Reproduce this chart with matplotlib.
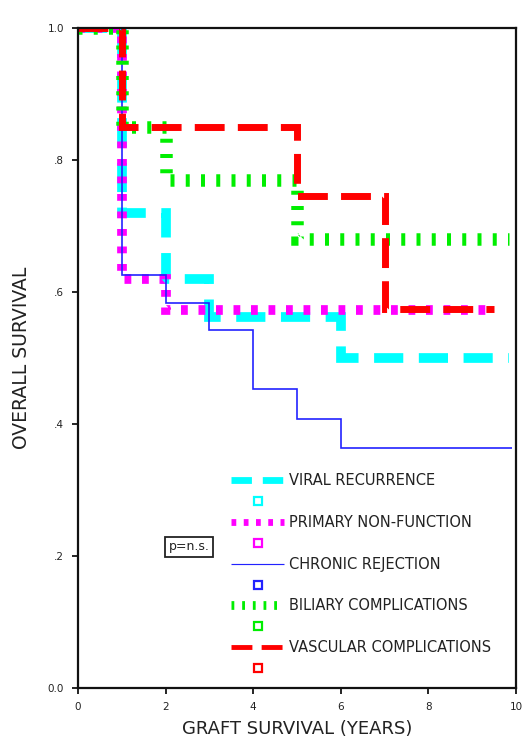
import matplotlib
matplotlib.use('Agg')
import matplotlib.pyplot as plt
from matplotlib.lines import Line2D

# ── Daten ─────────────────────────────────────────────────────────────────────
viral_t = [0, 1, 2, 3, 6, 9.85]
viral_s = [1.0, 0.72, 0.62, 0.562, 0.50, 0.50]

primary_t = [0, 1, 2, 9.5]
primary_s = [1.0, 0.62, 0.573, 0.573]

chronic_t = [0, 1, 2, 3, 4, 5, 6, 9.9]
chronic_s = [1.0, 0.626, 0.583, 0.542, 0.453, 0.408, 0.364, 0.364]

biliary_t = [0, 1, 2, 5, 9.85]
biliary_s = [1.0, 0.85, 0.77, 0.68, 0.68]

vascular_t = [0, 1, 5, 7, 9.5]
vascular_s = [1.0, 0.85, 0.745, 0.575, 0.575]

labels = ['VIRAL RECURRENCE', 'PRIMARY NON-FUNCTION', 'CHRONIC REJECTION',
          'BILIARY COMPLICATIONS', 'VASCULAR COMPLICATIONS']

x_ticks = [0, 2, 4, 6, 8, 10]
y_ticks = [0.0, 0.2, 0.4, 0.6, 0.8, 1.0]
y_ticklabels = ['0.0', '.2', '.4', '.6', '.8', '1.0']

# ── Stile ─────────────────────────────────────────────────────────────────────
_CYAN = '#00FFFF'
_MAGENTA = '#FF00FF'
_BLUE = '#2222FF'
_GREEN = '#00EE00'
_RED = '#FF0000'
_TXT = '#222222'

styles = [
    dict(color=_CYAN, lw=7, dashes=(3.0, 1.6)),
    dict(color=_MAGENTA, lw=7, dashes=(0.7, 1.1)),
    dict(color=_BLUE, lw=1.2),
    dict(color=_GREEN, lw=9, dashes=(0.32, 0.9)),
    dict(color=_RED, lw=5, dashes=(4.3, 1.9)),
]
series = [(viral_t, viral_s), (primary_t, primary_s), (chronic_t, chronic_s),
          (biliary_t, biliary_s), (vascular_t, vascular_s)]

fig = plt.figure(figsize=(5.24, 7.42), dpi=100)
ax = fig.add_axes([78 / 524, 1 - 688 / 742, 438 / 524, 660 / 742])

for (t, s), st in zip(series, styles):
    ln, = ax.step(t, s, where='post', color=st['color'], lw=st['lw'],
                  solid_capstyle='butt', dash_capstyle='butt',
                  solid_joinstyle='miter', dash_joinstyle='miter')
    if 'dashes' in st:
        ln.set_dashes(st['dashes'])

ax.set_xlim(0, 10)
ax.set_ylim(0, 1.0)
ax.set_xticks(x_ticks)
ax.set_xticklabels([str(v) for v in x_ticks])
ax.set_yticks(y_ticks)
ax.set_yticklabels(y_ticklabels)
ax.tick_params(direction='out', length=4, width=1.2, labelsize=7.5,
               labelcolor=_TXT, top=False, right=False, pad=6)
for sp in ax.spines.values():
    sp.set_linewidth(1.6)
    sp.set_color('#111111')

ax.set_xlabel('GRAFT SURVIVAL (YEARS)', fontsize=13, color=_TXT, labelpad=6)
ax.set_ylabel('OVERALL SURVIVAL', fontsize=13.5, color=_TXT, labelpad=12)

# Legende: Linie + Zensierungsmarker je Gruppe
handles, hlabels = [], []
for lbl, st in zip(labels, styles):
    h = Line2D([], [], color=st['color'], lw=st['lw'] * 0.7,
               solid_capstyle='butt', dash_capstyle='butt')
    if 'dashes' in st:
        h.set_dashes(st['dashes'])
    handles.append(h)
    hlabels.append(lbl)
    handles.append(Line2D([], [], color=st['color'], marker='s', ls='none',
                          markersize=5.5, markerfacecolor='white', mew=1.6))
    hlabels.append('')

leg = ax.legend(handles, hlabels, loc='lower left',
                bbox_to_anchor=(0.33, 0.005), frameon=False,
                fontsize=10.5, handlelength=3.6, labelspacing=0.4,
                handletextpad=0.35, borderaxespad=0.2)
for txt in leg.get_texts():
    txt.set_color(_TXT)

ax.text(0.253, 0.214, 'p=n.s.', transform=ax.transAxes, fontsize=9,
        ha='center', va='center', color=_TXT,
        bbox=dict(boxstyle='square,pad=0.3', fc='white', ec='#222222', lw=1.3))

fig.savefig('out.png', dpi=100, facecolor='white')
